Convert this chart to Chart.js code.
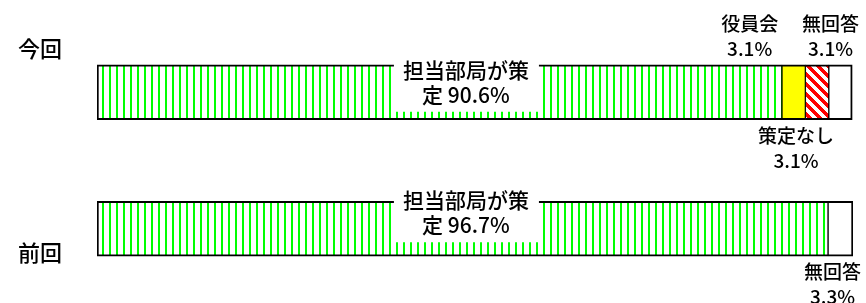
<!DOCTYPE html>
<html>
<head>
<meta charset="utf-8">
<script src="https://cdn.jsdelivr.net/npm/chart.js@4"></script>
<style>
body { margin: 0; background: #fff; }
</style>
</head>
<body>
<canvas id="myChart" width="866" height="303"></canvas>
<script>
// data
var categories = ['今回', '前回'];
var seriesNames = ['担当部局が策定', '役員会', '策定なし', '無回答'];
var tantou = [90.6, 96.7];
var yakuin = [3.1, 0];
var nashi = [3.1, 0];
var mukaitou = [3.1, 3.3];

var FONT = '"Noto Sans CJK JP", "Noto Sans", sans-serif';
var canvas = document.getElementById('myChart');
var ctx = canvas.getContext('2d');

// green vertical stripes
function greenStripes() {
  var c = document.createElement('canvas');
  c.width = 7; c.height = 1;
  var g = c.getContext('2d');
  g.fillStyle = '#ffffff';
  g.fillRect(0, 0, 7, 1);
  g.fillStyle = '#00ff00';
  g.fillRect(4, 0, 2, 1);
  return ctx.createPattern(c, 'repeat');
}

// red diagonal stripes
function redDiagonal() {
  var c = document.createElement('canvas');
  c.width = 10; c.height = 10;
  var g = c.getContext('2d');
  for (var y = 0; y < 10; y++) {
    for (var x = 0; x < 10; x++) {
      g.fillStyle = ((x - y + 10) % 10) < 5 ? '#ff0000' : '#ffffff';
      g.fillRect(x, y, 1, 1);
    }
  }
  return ctx.createPattern(c, 'repeat');
}

function borders(c) {
  return {
    top: 2,
    bottom: 2,
    left: c.datasetIndex === 0 ? 2 : 1,
    right: c.datasetIndex === 3 ? 2 : 1
  };
}

// labels outside the bar: which segment, above or below, x shift
var outside = [
  { ds: 1, row: 0, side: 'top', dx: -44 },
  { ds: 3, row: 0, side: 'top', dx: -10 },
  { ds: 2, row: 0, side: 'bottom', dx: -21 },
  { ds: 3, row: 1, side: 'bottom', dx: -8 }
];

var labelPlugin = {
  id: 'labelPlugin',
  afterDatasetsDraw: function(chart) {
    var c = chart.ctx;
    var xs = chart.scales.x;
    c.save();
    c.fillStyle = '#000';
    c.textAlign = 'center';
    c.textBaseline = 'middle';

    // category names
    c.font = '500 22px ' + FONT;
    var m0 = chart.getDatasetMeta(0);
    var b0 = m0.data[0], b1 = m0.data[1];
    c.fillText(categories[0], 40, b0.y - 44);
    c.fillText(categories[1], 40, b1.y + 24);

    // main label inside the green part
    for (var i = 0; i < categories.length; i++) {
      var el = m0.data[i];
      var top = el.y - el.height / 2;
      var cx = xs.getPixelForValue(48.8);
      var l1 = seriesNames[0].slice(0, 6);
      var l2 = seriesNames[0].slice(6) + ' ' + tantou[i].toFixed(1) + '%';
      var ty = top + (i === 0 ? 5 : -1);
      c.fillStyle = '#fff';
      c.fillRect(cx - 72, ty - 14, 145, 56);
      c.fillStyle = '#000';
      c.font = '500 21px ' + FONT;
      c.fillText(l1, cx, ty);
      c.fillText(l2, cx, ty + 25);
    }

    // small segments
    c.font = '500 19px ' + FONT;
    outside.forEach(function(o) {
      var el = chart.getDatasetMeta(o.ds).data[o.row];
      var v = chart.data.datasets[o.ds].data[o.row];
      var cx = (el.x + el.base) / 2 + o.dx;
      var y1;
      if (o.side === 'top') {
        y1 = el.y - el.height / 2 - 41;
      } else {
        y1 = el.y + el.height / 2 + 16;
      }
      c.fillText(seriesNames[o.ds], cx, y1);
      c.fillText(v.toFixed(1) + '%', cx, y1 + 25);
    });
    c.restore();
  }
};

var fills = [greenStripes(), '#ffff00', redDiagonal(), '#ffffff'];
var values = [tantou, yakuin, nashi, mukaitou];

var myChart = new Chart(ctx, {
  type: 'bar',
  data: {
    labels: categories,
    datasets: seriesNames.map(function(name, i) {
      return {
        label: name,
        data: values[i],
        backgroundColor: fills[i],
        borderColor: '#000000',
        borderWidth: borders,
        borderSkipped: false,
        barThickness: 55
      };
    })
  },
  options: {
    indexAxis: 'y',
    responsive: false,
    animation: false,
    devicePixelRatio: 1,
    layout: { padding: { left: 97, right: 13, top: 24, bottom: 6 } },
    plugins: {
      legend: { display: false },
      tooltip: { enabled: false }
    },
    scales: {
      x: { stacked: true, min: 0, max: 100, display: false },
      y: { stacked: true, display: false }
    }
  },
  plugins: [labelPlugin]
});
</script>
</body>
</html>
